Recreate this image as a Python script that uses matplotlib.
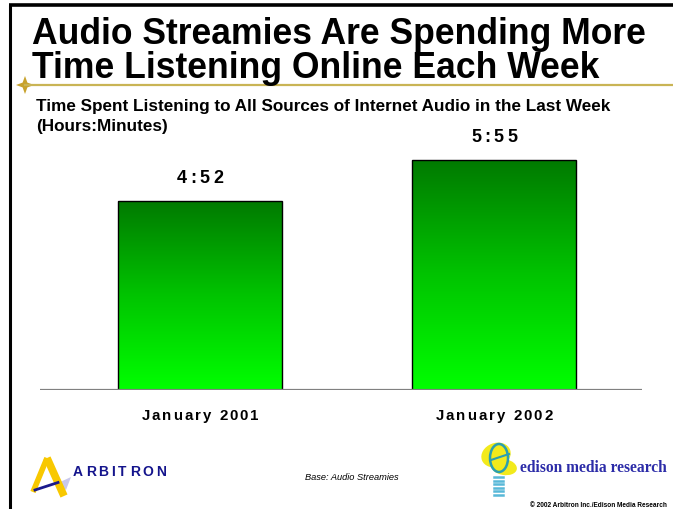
import numpy as np
import matplotlib
matplotlib.use("Agg")
import matplotlib.pyplot as plt
from matplotlib.colors import LinearSegmentedColormap
from matplotlib.patches import Polygon, Rectangle, Ellipse
from matplotlib.font_manager import FontProperties, findfont, get_font

# --- data ---
periods = ["January 2001", "January 2002"]
minutes = [292, 355]          # 4:52 and 5:55 (hours:minutes)

title_lines = ["Audio Streamies Are Spending More",
               "Time Listening Online Each Week"]
subtitle_lines = ["Time Spent Listening to All Sources of Internet Audio in the Last Week",
                  "(Hours:Minutes)"]
base_note = "Base: Audio Streamies"
copyright_note = "\u00a9 2002 Arbitron Inc./Edison Media Research"

W, H, DPI = 673, 510, 100
fig = plt.figure(figsize=(W / DPI, H / DPI), dpi=DPI)
fig.patch.set_facecolor("white")

# overlay axes in pixel units (origin top-left) for frame, texts and logos
deco = fig.add_axes([0, 0, 1, 1], zorder=3)
deco.set_xlim(0, W)
deco.set_ylim(H, 0)
deco.axis("off")
deco.patch.set_alpha(0)

# chart axes
ax = fig.add_axes([40 / W, (H - 390.5) / H, 602 / W, 400 * 0.6465 / H], zorder=2)
ax.patch.set_alpha(0)
x = np.arange(len(minutes))
bar_w = 164 / 294
green = LinearSegmentedColormap.from_list("grn", ["#00ff00", "#00c400", "#007a00"])
grad = np.linspace(0, 1, 256).reshape(-1, 1)
for xi, v in zip(x, minutes):
    rect = Rectangle((xi - bar_w / 2, 0), bar_w, v, facecolor="none",
                     edgecolor="black", lw=1.0, zorder=3)
    ax.add_patch(rect)
    im = ax.imshow(grad, extent=[xi - bar_w / 2, xi + bar_w / 2, 0, v],
                   origin="lower", cmap=green, aspect="auto", zorder=2)
    im.set_clip_path(rect)
ax.axhline(0, color="#808080", lw=1.6, zorder=4)
ax.set_xlim(-160 / 294, -160 / 294 + 602 / 294)
ax.set_ylim(0, 400)
ax.axis("off")


def tracked(px, py, s, size, track, weight="bold", color="black"):
    """Centered text with extra letter spacing, pixel coords from top-left."""
    fp = FontProperties(family="Liberation Sans", weight=weight, size=size)
    font = get_font(findfont(fp))
    font.set_size(size, DPI)
    adv = [font.load_char(ord(c)).linearHoriAdvance / 65536 for c in s]
    total = sum(adv) + track * (len(s) - 1)
    cx = px - total / 2
    for c, a in zip(s, adv):
        deco.text(cx, py, c, fontproperties=fp, color=color,
                  ha="left", va="center")
        cx += a + track


# value labels above bars and period labels under them
for xi, v, lab in zip(x, minutes, periods):
    dx, dy = ax.transData.transform((xi, v))
    tracked(dx, H - dy - 23.5, f"{v // 60}:{v % 60:02d}", 13, 3.3)
    tracked(dx, 416, lab, 10.8, 2.0)

# frame lines
deco.plot([10, 10], [6, H], color="black", lw=2.2, solid_capstyle="butt")
deco.plot([9, W], [6, 6], color="black", lw=2.6, solid_capstyle="butt")
deco.plot([25, W], [86, 86], color="#c9b455", lw=1.6)
star = [(25, 77), (27.4, 83.6), (34, 86), (27.4, 88.4), (25, 95),
        (22.6, 88.4), (16, 86), (22.6, 83.6)]
deco.add_patch(Polygon(star, closed=True, facecolor="#c8a22c", edgecolor="none"))

# titles
for i, t in enumerate(title_lines):
    deco.text(32, 44 + 34 * i, t, family="Liberation Sans", weight="bold",
              size=25.6, ha="left", va="baseline")
for i, t in enumerate(subtitle_lines):
    deco.text(36, 111 + 20.5 * i, t, family="Liberation Sans", weight="bold",
              size=12.3, ha="left", va="baseline")

# footer notes
deco.text(305, 478, base_note, family="Liberation Sans", style="italic",
          size=6.7, ha="left", va="center")
deco.text(667, 506, copyright_note, family="Liberation Sans", weight="bold",
          size=4.7, ha="right", va="center")

# Arbitron mark
deco.plot([33, 47], [493, 459], color="#f8c800", lw=4, solid_capstyle="butt")
deco.plot([47, 64], [459, 497], color="#f8c800", lw=5.5, solid_capstyle="butt")
deco.add_patch(Polygon([(58, 484), (71, 478), (66, 491)], closed=True,
                       facecolor="#c8c8ec", edgecolor="none"))
deco.plot([35, 58], [491, 483.5], color="#1a1a8c", lw=2)
tracked(119.5, 472, "ARBITRON", 10, 2.9, weight="bold", color="#14148c")

# Edison mark
deco.add_patch(Ellipse((496, 456), 30, 24, angle=-20, facecolor="#f2ea1c",
                       edgecolor="none"))
deco.add_patch(Ellipse((504, 468), 26, 16, angle=10, facecolor="#f2ea1c",
                       edgecolor="none"))
deco.add_patch(Ellipse((499, 459), 18, 28, facecolor="none",
                       edgecolor="#2a9fb0", lw=1.8))
deco.plot([491, 509], [461, 455], color="#2a9fb0", lw=1.5)
for k in range(6):
    deco.plot([494, 503], [478 + 3.5 * k, 478 + 3.5 * k], color="#58b8d8", lw=1.8)
deco.text(520, 468, "edison media research", family="Liberation Serif",
          weight="bold", size=11.2, color="#2c2ca8", ha="left", va="center")

fig.savefig("out.png", dpi=DPI)
